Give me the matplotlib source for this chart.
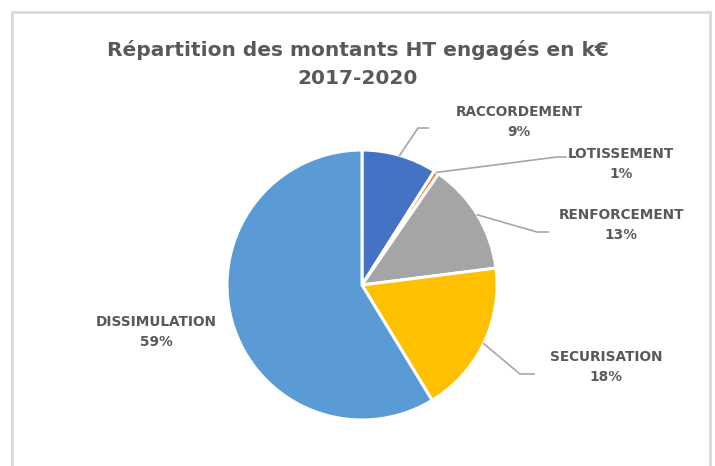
import matplotlib
matplotlib.use("Agg")
import matplotlib.pyplot as plt
import numpy as np
from matplotlib.patches import Rectangle

# parts des montants HT engagés (%)
postes = ["RACCORDEMENT", "LOTISSEMENT", "RENFORCEMENT", "SECURISATION", "DISSIMULATION"]
parts = [9.0, 0.6, 13.4, 18.3, 58.7]
etiquettes = ["9%", "1%", "13%", "18%", "59%"]
couleurs = ["#4472C4", "#ED7D31", "#A5A5A5", "#FFC000", "#5B9BD5"]

W, H = 715, 466
gris = "#595959"

fig = plt.figure(figsize=(W / 100, H / 100), dpi=100)
plt.rcParams['font.family'] = ['DejaVu Sans']

# cadre du graphique
fig.patches.append(Rectangle((12 / W, -0.1), (710 - 12) / W, (H - 12) / H + 0.1,
                             transform=fig.transFigure, fill=False,
                             edgecolor="#D9D9D9", linewidth=2))

# camembert : centre (362, 285) px, rayon 135 px
cx, cy, r = 362, 285, 135
ax = fig.add_axes([(cx - r) / W, (H - cy - r) / H, 2 * r / W, 2 * r / H])
wedges, _ = ax.pie(parts, colors=couleurs, startangle=90, counterclock=False,
                   radius=1, wedgeprops=dict(edgecolor="white", linewidth=2.2))
ax.set_xlim(-1, 1)
ax.set_ylim(-1, 1)
ax.set_aspect("equal")
ax.axis("off")

fig.text(0.5, (H - 50) / H, "Répartition des montants HT engagés en k€",
         ha="center", va="center", fontsize=14.5, fontweight="bold", color=gris)
fig.text(0.5, (H - 78) / H, "2017-2020",
         ha="center", va="center", fontsize=14.5, fontweight="bold", color=gris)

# position des étiquettes (px) et coude des lignes de rappel
pos_texte = [(519, 122), (621, 164), (621, 225), (606, 367), (156, 332)]
coudes = [((418, 128), (428, 128)), ((557, 157), (566, 157)),
          ((537, 232), (548, 232)), ((520, 374), (534, 374)), None]

def px(x, y):
    return x / W, (H - y) / H

for w, nom, lab, (tx, ty), coude in zip(wedges, postes, etiquettes, pos_texte, coudes):
    fig.text(*px(tx, ty), f"{nom}\n{lab}", ha="center", va="center",
             fontsize=9.8, fontweight="bold", color=gris, linespacing=1.5)
    if coude is None:
        continue
    mid = np.deg2rad((w.theta1 + w.theta2) / 2)
    x0, y0 = cx + r * np.cos(mid), cy - r * np.sin(mid)
    (ex, ey), (fx, fy) = coude
    xs, ys = zip(px(x0, y0), px(ex, ey), px(fx, fy))
    fig.add_artist(plt.Line2D(xs, ys, transform=fig.transFigure,
                              color="#A6A6A6", linewidth=1.2))

fig.savefig("out.png", dpi=100)
